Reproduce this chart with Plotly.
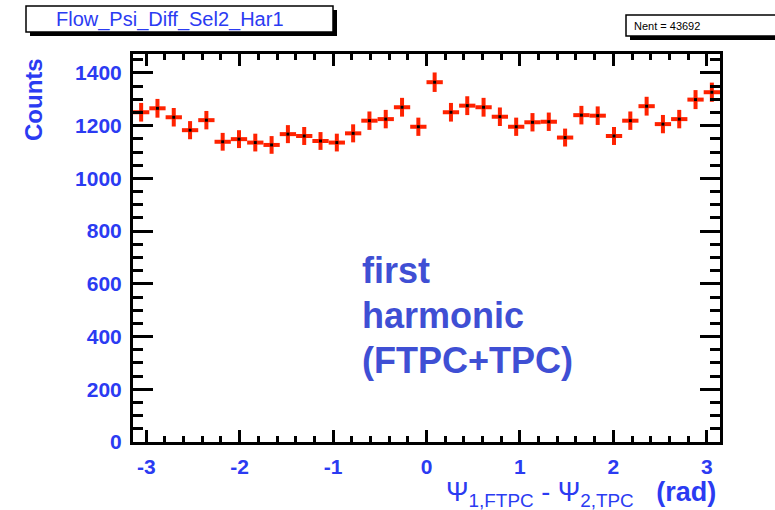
import numpy as np
import plotly.graph_objects as go

# Histogram of the event-plane angle difference, 36 bins over [-pi, pi]
n_bins = 36
counts = [1251, 1266, 1232, 1183, 1221, 1139, 1149, 1136, 1127, 1168,
          1161, 1142, 1136, 1171, 1219, 1225, 1270, 1196, 1365, 1251,
          1276, 1270, 1234, 1196, 1213, 1215, 1155, 1240, 1238, 1161,
          1219, 1274, 1206, 1225, 1299, 1327]
x_ticks = [-3, -2, -1, 0, 1, 2, 3]
x_tick_text = ["-3", "-2", "-1", "0", "1", "2", "3"]
hist_title = "Flow_Psi_Diff_Sel2_Har1"
stat_text = "Nent = 43692"
note_lines = ["first", "harmonic", "(FTPC+TPC)"]

edges = np.linspace(-np.pi, np.pi, n_bins + 1)
centers = 0.5 * (edges[:-1] + edges[1:])
half_width = 0.5 * (edges[1] - edges[0])
errors = np.sqrt(np.array(counts, dtype=float))

W, H = 775, 510
L, R, T, B = 133, 720, 54, 442  # plot frame in pixels


def px(x):
    return (x - L) / (R - L)


def py(y):
    return (B - y) / (B - T)


BLUE = "#2b3bf2"
NOTE_BLUE = "#3f4fd4"
RED = "#ff2200"
FONT = "Liberation Sans, Arial"

fig = go.Figure()
fig.add_trace(go.Scatter(
    x=centers, y=counts, mode="markers",
    marker=dict(symbol="square", size=3, color="black"),
    error_y=dict(type="data", array=errors, color=RED, thickness=4, width=0),
    error_x=dict(type="constant", value=half_width, color=RED, thickness=4, width=0),
    showlegend=False, hoverinfo="x+y",
))

axis_common = dict(
    showline=True, linewidth=3, linecolor="black", mirror="allticks",
    ticks="inside", tickwidth=3, tickcolor="black",
    showgrid=False, zeroline=False,
    tickfont=dict(family=FONT, size=21, color=BLUE, weight="bold"),
)

fig.update_layout(
    width=W, height=H,
    margin=dict(l=L, r=W - R, t=T, b=H - B),
    paper_bgcolor="white", plot_bgcolor="white",
    xaxis=dict(range=[-np.pi, np.pi], tickmode="array", tickvals=x_ticks,
               ticktext=x_tick_text, ticklen=12,
               minor=dict(ticks="inside", dtick=0.2, tick0=0, ticklen=6,
                          tickwidth=3, tickcolor="black"),
               ticklabelstandoff=4, **axis_common),
    yaxis=dict(range=[0, 1472], tick0=0, dtick=200, ticklen=20,
               minor=dict(ticks="inside", dtick=50, tick0=0, ticklen=10,
                          tickwidth=3, tickcolor="black"),
               ticklabelstandoff=4, **axis_common),
)

shapes = []
# title box with drop shadow
shapes.append(dict(type="rect", xref="paper", yref="paper",
                   x0=px(30), x1=px(337), y0=py(36), y1=py(10),
                   fillcolor="black", line=dict(width=0), layer="above"))
shapes.append(dict(type="rect", xref="paper", yref="paper",
                   x0=px(26), x1=px(333), y0=py(32), y1=py(6),
                   fillcolor="white", line=dict(color="black", width=1.5), layer="above"))
# statistics box with drop shadow
shapes.append(dict(type="rect", xref="paper", yref="paper",
                   x0=px(630), x1=px(790), y0=py(40), y1=py(19),
                   fillcolor="black", line=dict(width=0), layer="above"))
shapes.append(dict(type="rect", xref="paper", yref="paper",
                   x0=px(626), x1=px(786), y0=py(36), y1=py(15),
                   fillcolor="white", line=dict(color="black", width=1.5), layer="above"))
fig.update_layout(shapes=shapes)

ann = []
ann.append(dict(x=px(170), y=py(19), xref="paper", yref="paper",
                text=hist_title, showarrow=False, xanchor="center", yanchor="middle",
                font=dict(family=FONT, size=20, color=BLUE)))
ann.append(dict(x=px(632), y=py(26), xref="paper", yref="paper",
                text=stat_text, showarrow=False, xanchor="left", yanchor="middle",
                font=dict(family=FONT, size=11, color="black")))
# y axis title
ann.append(dict(x=px(33), y=py(100), xref="paper", yref="paper",
                text="Counts", showarrow=False, textangle=-90,
                xanchor="center", yanchor="middle",
                font=dict(family=FONT, size=24, color=BLUE, weight="bold")))
# x axis title
ann.append(dict(x=px(718), y=py(494), xref="paper", yref="paper",
                text="Ψ<sub>1,FTPC</sub> - Ψ<sub>2,TPC</sub>   <b>(rad)</b>",
                showarrow=False, xanchor="right", yanchor="middle",
                font=dict(family=FONT, size=27, color=BLUE)))
# text block inside the frame
for i, line in enumerate(note_lines):
    ann.append(dict(x=px(360), y=py(270 + 45 * i), xref="paper", yref="paper",
                    text=line, showarrow=False, xanchor="left", yanchor="middle",
                    font=dict(family=FONT, size=36, color=NOTE_BLUE, weight="bold")))
fig.update_layout(annotations=ann)

fig.write_html("out.html")
